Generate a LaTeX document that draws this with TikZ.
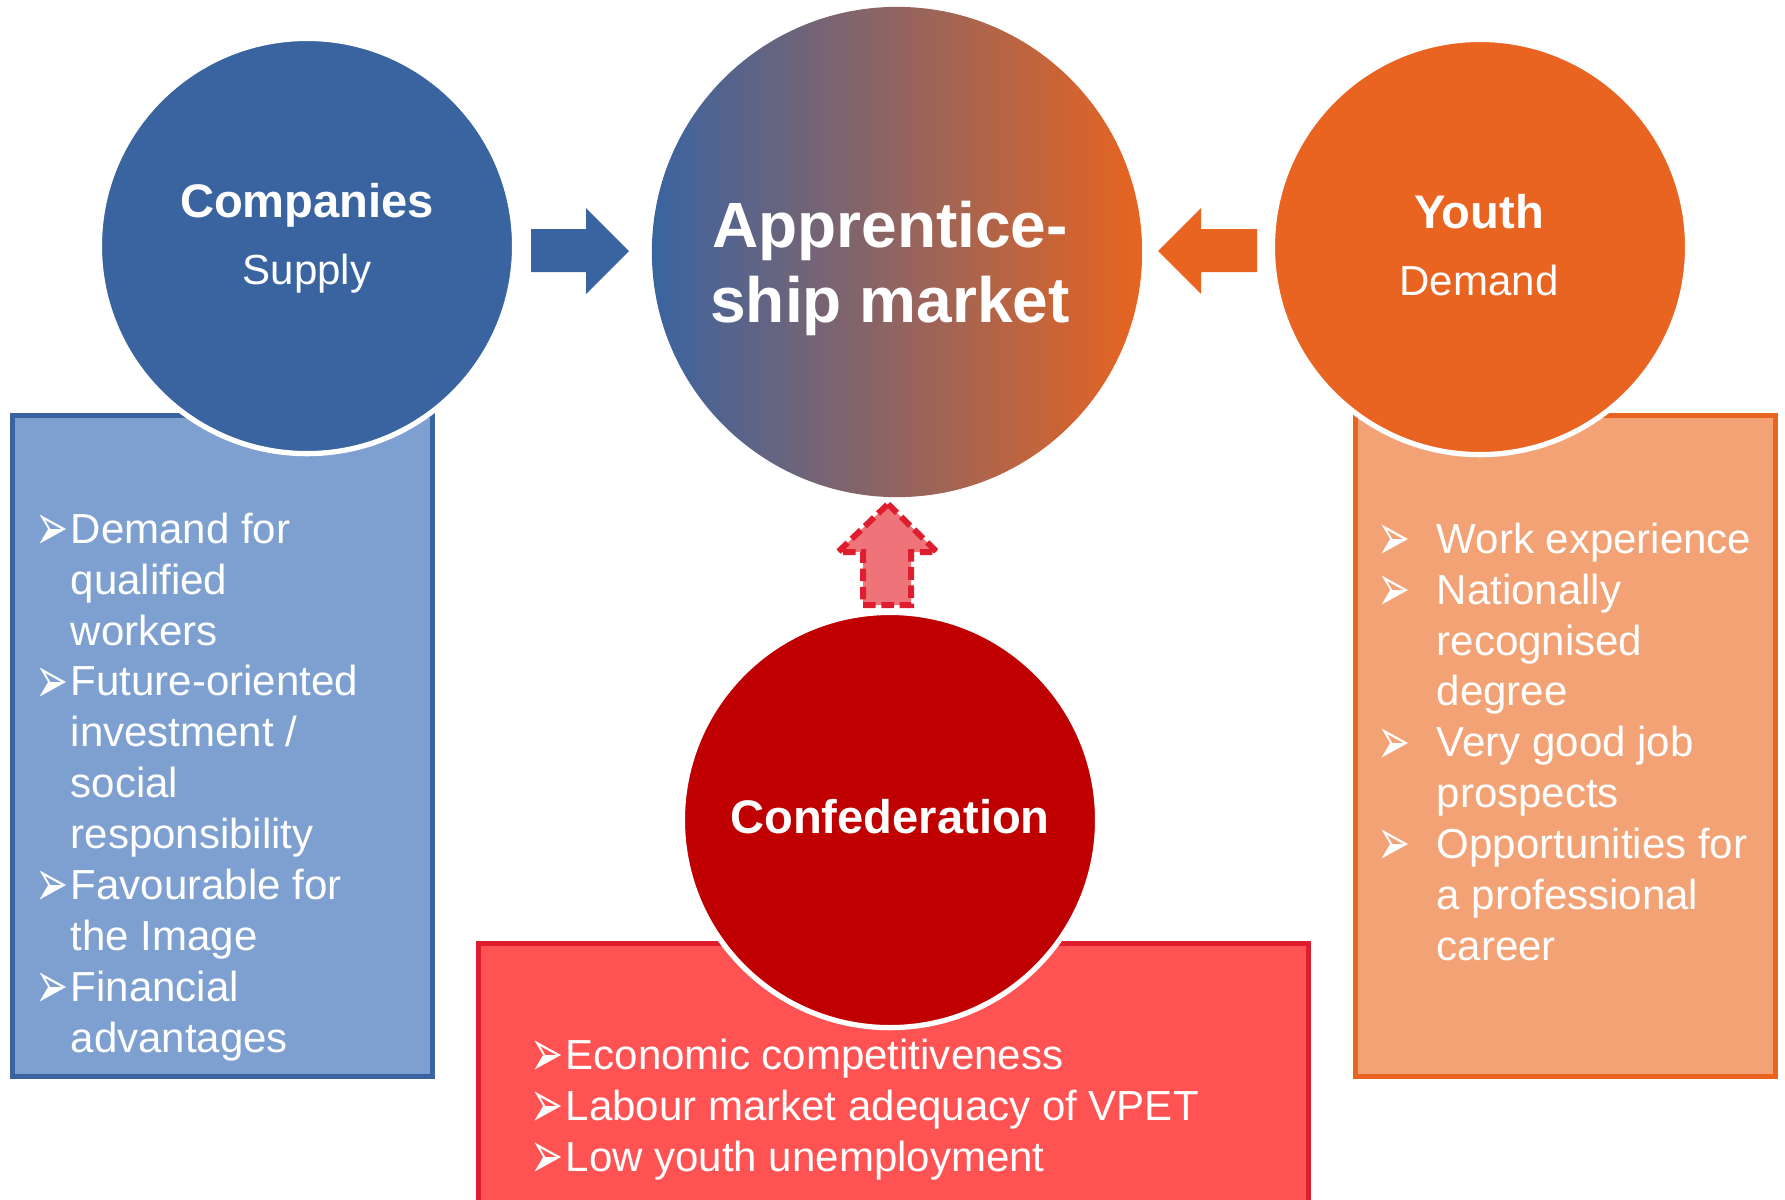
\documentclass[tikz,border=0pt]{standalone}
\usepackage{fontspec}
\setmainfont{Liberation Sans}
\newfontfamily\dejavu{DejaVu Sans}
\definecolor{companyblue}{RGB}{58, 100, 160}
\definecolor{companylight}{RGB}{126, 160, 208}
\definecolor{youthorange}{RGB}{232, 100, 32}
\definecolor{youthlight}{RGB}{242, 162, 116}
\definecolor{marketmauve}{RGB}{165, 98, 124}
\definecolor{confred}{RGB}{192, 0, 0}
\definecolor{conflight}{RGB}{255, 82, 82}
\definecolor{confline}{RGB}{222, 30, 46}
\definecolor{confpink}{RGB}{238, 116, 121}
\newcommand{\pointer}[1][0.34cm]{\makebox[#1][l]{\raisebox{-2pt}{\smash{\scalebox{0.66}[1.12]{\dejavu\fontsize{17pt}{17pt}\selectfont ➢}}}}}
\tikzset{
  bubble/.style={circle, minimum size=4.15cm, draw=white, line width=1.5pt, inner sep=0pt},
  panel/.style={rectangle, line width=1.42pt, inner sep=0pt},
  headline/.style={text=white, font=\bfseries\fontsize{13.4pt}{16pt}\selectfont, anchor=base, inner sep=0pt},
  subline/.style={text=white, font=\fontsize{11.95pt}{14pt}\selectfont, anchor=base, inner sep=0pt},
  itemlist/.style={text=white, font=\fontsize{11.95pt}{14.5pt}\selectfont, anchor=base west, inner sep=0pt},
  blockdash/.style={line width=1.7pt, dash pattern=on 3.6pt off 1.6pt}
}

\begin{document}
\begin{tikzpicture}[x=0.01cm, y=-0.01cm]
  \useasboundingbox (0,0) rectangle (1785,1199);
  \node[panel, draw=companyblue, fill=companylight, minimum width=4.2cm, minimum height=6.61cm] (compbox)  at ( 222.5, 746.0) {};
  \node[panel, draw=youthorange, fill=youthlight,   minimum width=4.2cm, minimum height=6.61cm] (youthbox) at (1565.5, 746.0) {};
  \node[panel, draw=confline,    fill=conflight,    minimum width=8.3cm, minimum height=2.67cm] (confbox)  at ( 893.5,1077.0) {};

  \node[bubble, fill=companyblue] (companies)     at ( 307, 246) {};
  \node[bubble, fill=youthorange] (youth)         at (1480, 247) {};
  \node[bubble, fill=confred]     (confederation) at ( 890, 820) {};
  \node[circle, minimum size=4.9cm, inner sep=0pt,
        left color=companyblue, middle color=marketmauve, right color=youthorange] (market) at (897, 252) {};

  \fill[companyblue] ( 531,229) -- ( 586,229) -- ( 586,208) -- ( 629,251) -- ( 586,294) -- ( 586,272) -- ( 531,272) -- cycle;
  \fill[youthorange] (1257,229) -- (1201,229) -- (1201,208) -- (1158,251) -- (1201,294) -- (1201,272) -- (1257,272) -- cycle;
  \filldraw[fill=confpink, draw=confline, blockdash]
       ( 888,504) -- ( 937,552) -- ( 911,552) -- ( 911,605) -- ( 863,605) -- ( 863,552) -- ( 838,552) -- cycle;

  \node[headline] (comptitle)  at ( 307, 217) {Companies};
  \node[subline]  (compsub)    at ( 307, 284) {Supply};
  \node[headline] (youthtitle) at (1479, 228) {Youth};
  \node[subline]  (youthsub)   at (1479, 295) {Demand};
  \node[headline] (conftitle)  at ( 890, 833) {Confederation};
  \node[text=white, font=\bfseries\fontsize{18.2pt}{21.6pt}\selectfont, anchor=base, inner sep=0pt] (markettitle) at (890, 247)
       {\begin{tabular}[t]{@{}c@{}}Apprentice-\\ship market\end{tabular}};

  \node[itemlist] (complist) at (35, 543) {\begin{tabular}[t]{@{}l@{}l@{}}
      \pointer[0.35cm] & Demand for\\ & qualified\\ & workers\\
      \pointer[0.35cm] & Future-oriented\\ & investment /\\ & social\\ & responsibility\\
      \pointer[0.35cm] & Favourable for\\ & the Image\\
      \pointer[0.35cm] & Financial\\ & advantages
    \end{tabular}};
  \node[itemlist] (youthlist) at (1377, 553) {\begin{tabular}[t]{@{}l@{}l@{}}
      \pointer[0.59cm] & Work experience\\
      \pointer[0.59cm] & Nationally\\ & recognised\\ & degree\\
      \pointer[0.59cm] & Very good job\\ & prospects\\
      \pointer[0.59cm] & Opportunities for\\ & a professional\\ & career
    \end{tabular}};
  \node[itemlist] (conflist) at (530, 1069) {\begin{tabular}[t]{@{}l@{}l@{}}
      \pointer[0.35cm] & Economic competitiveness\\
      \pointer[0.35cm] & Labour market adequacy of VPET\\
      \pointer[0.35cm] & Low youth unemployment
    \end{tabular}};
\end{tikzpicture}
\end{document}
